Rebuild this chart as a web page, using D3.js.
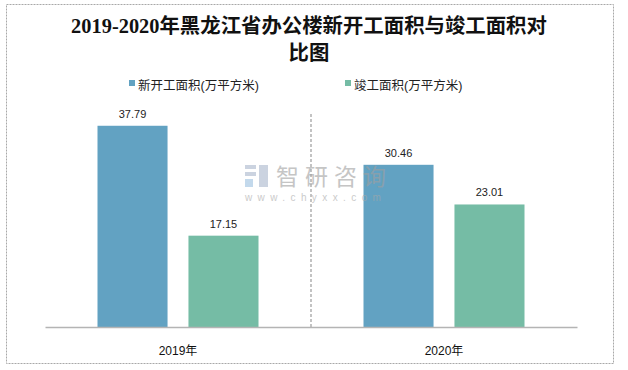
<!DOCTYPE html>
<html>
<head>
<meta charset="utf-8">
<script src="https://cdn.jsdelivr.net/npm/d3@7"></script>
<style>
  body { margin: 0; background: #fff; }
  text { font-family: "Liberation Sans", "Noto Sans CJK SC", sans-serif; }
</style>
</head>
<body>
<svg id="chart" width="628" height="370"></svg>
<script>
const years = ['2019年', '2020年'];
const seriesNames = ['新开工面积(万平方米)', '竣工面积(万平方米)'];
const newStart = [37.79, 30.46];
const completed = [17.15, 23.01];
const colors = ['#62a2c2', '#75bca5'];

const svg = d3.select('#chart');
const width = 628, height = 370;
const margin = { top: 114, left: 45, right: 51, bottom: 43 };
const plotW = width - margin.left - margin.right;
const plotH = height - margin.top - margin.bottom;

// outer frame
svg.append('rect')
    .attr('x', 6.5).attr('y', 4.5)
    .attr('width', 607).attr('height', 359)
    .attr('fill', 'none')
    .attr('stroke', '#a8a8a8')
    .attr('stroke-dasharray', '2,1');

// title
const title = svg.append('text')
    .attr('text-anchor', 'middle')
    .style('font-family', '"Liberation Serif", "Noto Sans CJK SC", serif')
    .style('font-weight', 'bold')
    .style('font-size', '20.4px')
    .attr('fill', '#111');
title.append('tspan').attr('x', 309).attr('y', 33).text('2019-2020年黑龙江省办公楼新开工面积与竣工面积对');
title.append('tspan').attr('x', 309).attr('y', 60).text('比图');

// legend
const legendX = [129, 345];
const legend = svg.selectAll('g.legend')
  .data(seriesNames)
  .enter().append('g')
    .attr('class', 'legend')
    .attr('transform', (d, i) => `translate(${legendX[i]}, 80)`);
legend.append('rect')
    .attr('width', 6).attr('height', 6)
    .attr('fill', (d, i) => colors[i]);
legend.append('text')
    .attr('x', 9).attr('y', 9.5)
    .style('font-size', '12.5px')
    .attr('fill', '#222')
    .text(d => d);

const g = svg.append('g')
    .attr('transform', `translate(${margin.left},${margin.top})`);

const x0 = d3.scaleBand().domain(years).range([0, plotW]);
const x1 = d3.scaleBand().domain(seriesNames)
    .range([52.5, x0.bandwidth() - 52.5]).paddingInner(0.23);
const y = d3.scaleLinear().domain([0, 40]).range([plotH, 0]);

// separator
g.append('line')
    .attr('x1', x0.step()).attr('x2', x0.step())
    .attr('y1', 0).attr('y2', plotH)
    .attr('stroke', '#b0b0b0')
    .attr('stroke-width', 1.5)
    .attr('stroke-dasharray', '3,2');

const groups = g.selectAll('g.year')
  .data(years)
  .enter().append('g')
    .attr('class', 'year')
    .attr('transform', d => `translate(${x0(d)},0)`);

const barData = (d, i) => [
  { s: seriesNames[0], v: newStart[i], c: colors[0] },
  { s: seriesNames[1], v: completed[i], c: colors[1] }
];

groups.selectAll('rect')
  .data(barData)
  .enter().append('rect')
    .attr('x', d => x1(d.s))
    .attr('y', d => y(d.v))
    .attr('width', x1.bandwidth())
    .attr('height', d => plotH - y(d.v))
    .attr('fill', d => d.c);

groups.selectAll('text.val')
  .data(barData)
  .enter().append('text')
    .attr('class', 'val')
    .attr('x', d => x1(d.s) + x1.bandwidth() / 2)
    .attr('y', d => y(d.v) - 8)
    .attr('text-anchor', 'middle')
    .style('font-size', '11px')
    .attr('fill', '#222')
    .text(d => d.v.toFixed(2));

// x axis
const xAxis = g.append('g')
    .attr('transform', `translate(0,${plotH})`)
    .call(d3.axisBottom(x0).tickSize(0).tickPadding(19));
xAxis.select('.domain').attr('stroke', '#b4b4b4').attr('stroke-width', 1.5);
xAxis.selectAll('text')
    .style('font-size', '12px')
    .style('font-family', '"Liberation Sans", "Noto Sans CJK SC", sans-serif')
    .attr('fill', '#111');

// watermark (drawn over the bars)
const wm = svg.append('g').attr('transform', 'translate(245, 165)').attr('opacity', 0.6);
wm.append('rect').attr('x', 0).attr('y', 0).attr('width', 11).attr('height', 4).attr('fill', '#aab6cc');
wm.append('rect').attr('x', 0).attr('y', 7).attr('width', 11).attr('height', 4).attr('fill', '#aab6cc');
wm.append('rect').attr('x', 0).attr('y', 14).attr('width', 8).attr('height', 8).attr('fill', '#9cc0e0');
wm.append('rect').attr('x', 14).attr('y', 0).attr('width', 9).attr('height', 22).attr('fill', '#aab6cc');
wm.append('text').attr('x', 31).attr('y', 20)
    .style('font-size', '23px').attr('fill', '#a0a0a0')
    .style('letter-spacing', '6px')
    .text('智研咨询');
wm.append('text').attr('x', 0).attr('y', 36)
    .style('font-size', '10px').attr('fill', '#a8a8a8')
    .style('letter-spacing', '5.4px')
    .text('www.chyxx.com');
</script>
</body>
</html>
